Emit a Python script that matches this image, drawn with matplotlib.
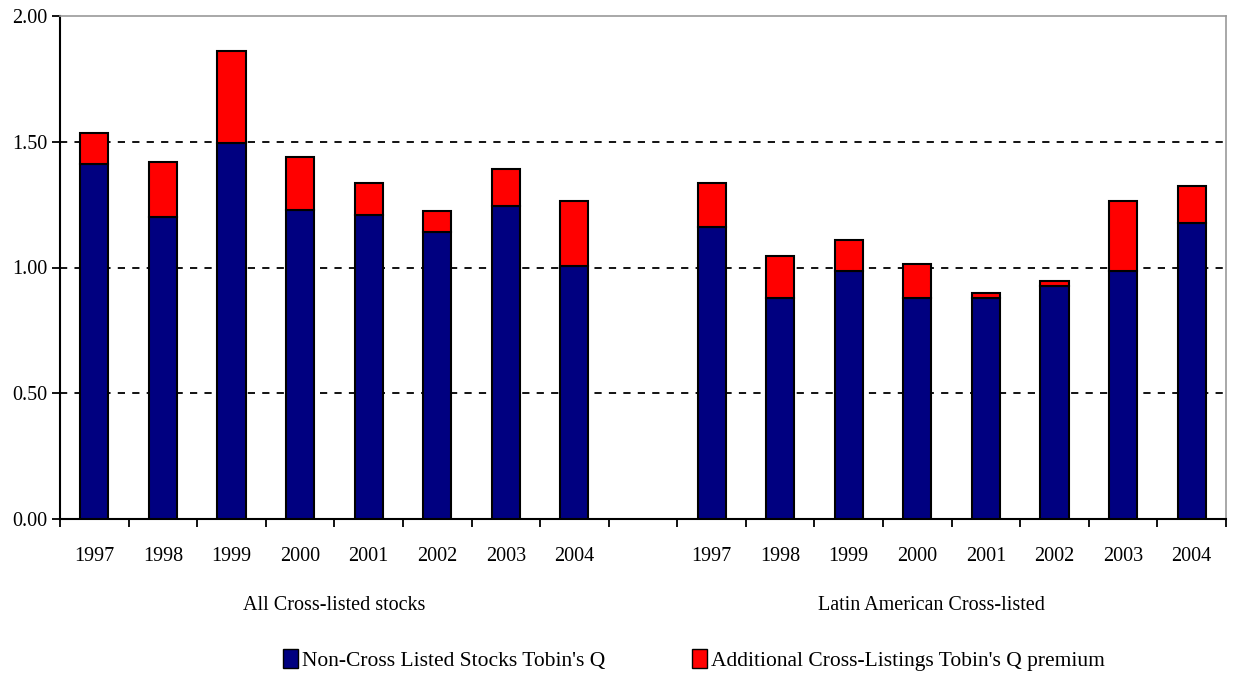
import numpy as np
import matplotlib
matplotlib.use("Agg")
import matplotlib.pyplot as plt
from matplotlib.patches import Patch
import matplotlib.transforms as mtransforms

plt.rcParams['font.family'] = ['Liberation Serif', 'DejaVu Serif']

# Data
years = ['1997', '1998', '1999', '2000', '2001', '2002', '2003', '2004']
groups = ['All Cross-listed stocks', 'Latin American Cross-listed']

all_base = [1.41, 1.20, 1.495, 1.23, 1.21, 1.14, 1.245, 1.005]
all_total = [1.535, 1.42, 1.86, 1.44, 1.335, 1.225, 1.39, 1.265]
latam_base = [1.16, 0.88, 0.985, 0.88, 0.88, 0.925, 0.985, 1.175]
latam_total = [1.335, 1.045, 1.11, 1.015, 0.90, 0.945, 1.265, 1.325]

labels = years + [''] + years
base = all_base + [np.nan] + latam_base
total = all_total + [np.nan] + latam_total
premium = [t - b for t, b in zip(total, base)]

navy = '#000080'
red = '#FF0000'
fs = 14.5

fig = plt.figure(figsize=(12.39, 6.75), dpi=100)
ax = fig.add_axes([60 / 1239, 1 - 519 / 675, 1166 / 1239, 503 / 675])

x = np.arange(len(labels))
w = 0.41
ax.bar(x, base, w, color=navy, edgecolor='black', linewidth=1.5, zorder=3)
ax.bar(x, premium, w, bottom=base, color=red, edgecolor='black', linewidth=1.5, zorder=3)

ax.set_xlim(-0.5, len(labels) - 0.5)
ax.set_ylim(0, 2.0)
ax.set_yticks([0, 0.5, 1.0, 1.5, 2.0])
ax.set_yticklabels(['%.2f' % v for v in [0, 0.5, 1.0, 1.5, 2.0]], fontsize=fs)

# category labels between tick marks at slot boundaries
ax.set_xticks(np.arange(-0.5, len(labels), 1.0))
ax.set_xticklabels([])
ax.set_xticks(x, minor=True)
ax.set_xticklabels(labels, minor=True, fontsize=fs)
ax.tick_params(axis='x', which='minor', length=0, pad=20)
ax.tick_params(axis='x', which='major', length=6, width=1.3, direction='out')
ax.tick_params(axis='y', length=6, width=1.3, direction='out', pad=3)

for v in [0.5, 1.0, 1.5]:
    ax.axhline(v, color='black', linestyle=(0, (4, 4)), linewidth=1.3, zorder=1)

ax.spines['left'].set_linewidth(1.5)
ax.spines['bottom'].set_linewidth(1.5)
ax.spines['top'].set_color('#999999')
ax.spines['right'].set_color('#999999')
ax.spines['top'].set_linewidth(1.2)
ax.spines['right'].set_linewidth(1.2)

trans = mtransforms.blended_transform_factory(ax.transData, fig.transFigure)
ax.text(3.5, 1 - 606 / 675, groups[0], transform=trans, ha='center', va='center', fontsize=fs)
ax.text(12.2, 1 - 606 / 675, groups[1], transform=trans, ha='center', va='center', fontsize=fs)

handles = [Patch(facecolor=navy, edgecolor='black', linewidth=1),
           Patch(facecolor=red, edgecolor='black', linewidth=1)]
fig.legend(handles, ["Non-Cross Listed Stocks Tobin's Q", "Additional Cross-Listings Tobin's Q premium"],
           loc='center', bbox_to_anchor=(0.56, 1 - 660 / 675), ncol=2, frameon=False,
           fontsize=15.5, handlelength=0.7, handleheight=1.0, handletextpad=0.2, columnspacing=4)

fig.savefig('out.png', dpi=100)
